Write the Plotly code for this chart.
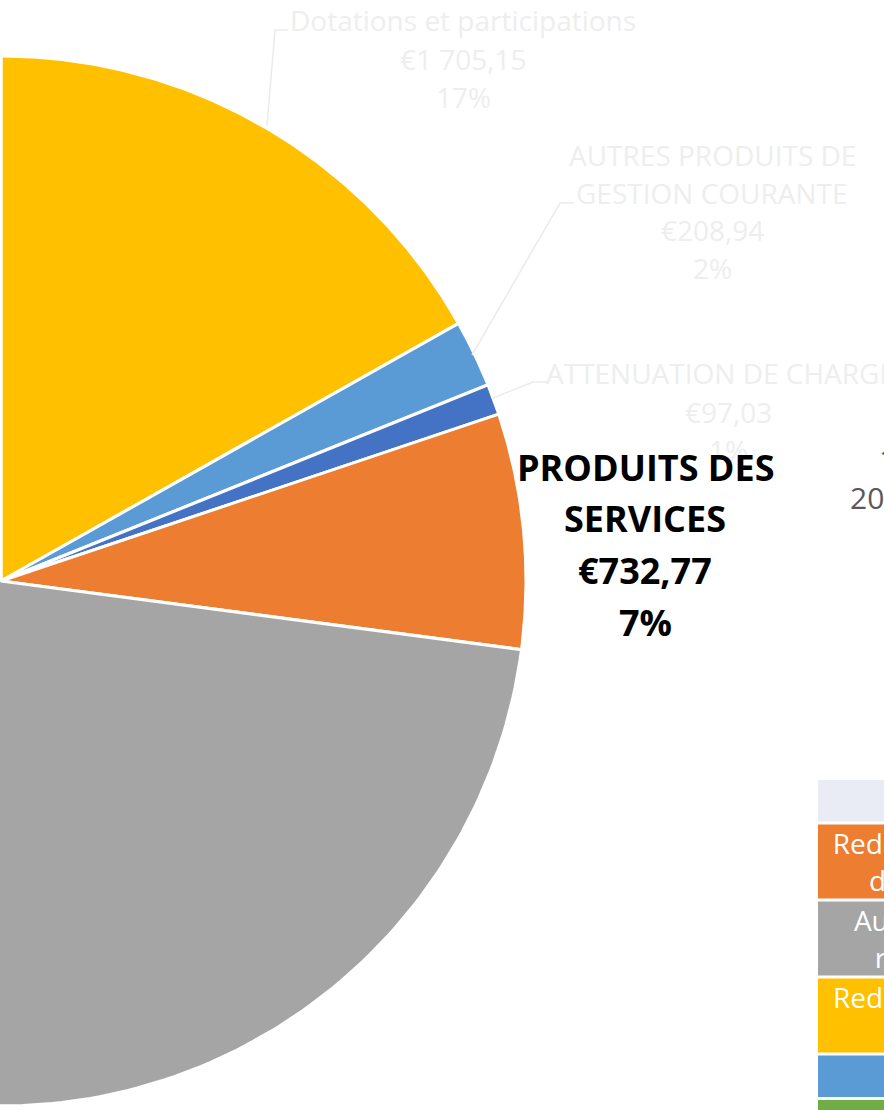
import numpy as np
import plotly.graph_objects as go

# slices, clockwise from 12 o'clock
names = ["Dotations et participations", "AUTRES PRODUITS DE GESTION COURANTE",
         "ATTENUATION DE CHARGES", "PRODUITS DES SERVICES", "IMPOTS ET TAXES",
         "EXCEDENT REPORTE"]
values = [1705.15, 208.94, 97.03, 732.77, 5900.00, 1486.00]
colors = ["#FFC000", "#5B9BD5", "#4472C4", "#ED7D31", "#A5A5A5", "#70AD47"]

# table rows at bottom right
row_text = ["", "Redevances et recettes<br>des régies locales",
            "Autres taxes locales<br>reversement net",
            "Redevances et revenus<br>du domaine",
            "Subventions", "Excédent reporté"]
row_colors = ["#E9EBF5", "#ED7D31", "#A5A5A5", "#FFC000", "#5B9BD5", "#70AD47"]


def euro(v):
    s = f"{v:,.2f}".replace(",", " ").replace(".", ",")
    return "€" + s


W, H = 884, 1110
cx, cy, R = 1, 581, 525
total = sum(values)

fig = go.Figure()

start = 90.0
for name, v, c in zip(names, values, colors):
    span = 360.0 * v / total
    th = np.radians(np.linspace(start, start - span, 200))
    xs = np.concatenate([[cx], cx + R * np.cos(th), [cx]])
    ys = np.concatenate([[cy], cy - R * np.sin(th), [cy]])
    fig.add_trace(go.Scatter(x=xs, y=ys, fill="toself", fillcolor=c, mode="lines",
                             line=dict(color="white", width=3), hoverinfo="text",
                             text=name, showlegend=False))
    start -= span

# table drawn as horizontal bars running off the right edge
lines = [t.count("<br>") + 1 for t in row_text]
pitch = [12 + 32.5 * n for n in lines]
tops = 780 + np.concatenate([[0], np.cumsum(pitch)[:-1]])
centers = tops + (np.array(pitch) - 3) / 2
fig.add_trace(go.Bar(orientation="h", y=centers, x=[330] * len(row_text), base=818,
                     width=[p - 3 for p in pitch], marker=dict(color=row_colors, line=dict(width=0)),
                     text=row_text, textposition="inside", insidetextanchor="middle",
                     constraintext="none",
                     textfont=dict(family="Open Sans", size=28, color="white"),
                     showlegend=False, hoverinfo="skip"))

# data labels
pct = [f"{round(100 * v / total)}%" for v in values]
light = "#EEEEEE"
label_specs = [
    (0, ["Dotations et participations"], 463, 20, 38.5, light, 28, False),
    (1, ["AUTRES PRODUITS DE", "GESTION COURANTE"], 712, 155, 37.7, light, 28, False),
    (2, ["ATTENUATION DE CHARGES"], 728, 373, 38.5, light, 28, False),
    (3, ["PRODUITS DES", "SERVICES"], 645, 467, 51.7, "black", 36, True),
]
for i, head, x0, y0, dy, col, size, bold in label_specs:
    rows = head + [euro(values[i]), pct[i]]
    for k, r in enumerate(rows):
        txt = f"<b>{r}</b>" if bold else r
        fig.add_annotation(x=x0, y=y0 + dy * k, text=txt, showarrow=False,
                           xanchor="center", yanchor="middle",
                           font=dict(family="Open Sans", size=size, color=col))

# leader lines
for path in ["M 267 125 L 275 30 L 288 30", "M 472 355 L 560 203 L 574 203",
             "M 493 398 L 533 382 L 548 382"]:
    fig.add_shape(type="path", path=path, line=dict(color="#EBEBEB", width=1.5))

# partial title at the right edge
fig.add_annotation(x=877, y=458, text="1", showarrow=False, xanchor="left", yanchor="middle",
                   font=dict(family="Open Sans", size=30, color="#595959"))
fig.add_annotation(x=848, y=497, text="2020", showarrow=False, xanchor="left", yanchor="middle",
                   font=dict(family="Open Sans", size=30, color="#595959"))

fig.update_xaxes(range=[0, W], visible=False, fixedrange=True)
fig.update_yaxes(range=[H, 0], visible=False, fixedrange=True)
fig.update_layout(width=W, height=H, margin=dict(l=0, r=0, t=0, b=0),
                  plot_bgcolor="white", paper_bgcolor="white", showlegend=False)

fig.write_html("out.html", config={"displayModeBar": False},
               post_script="document.body.style.margin='0';")
